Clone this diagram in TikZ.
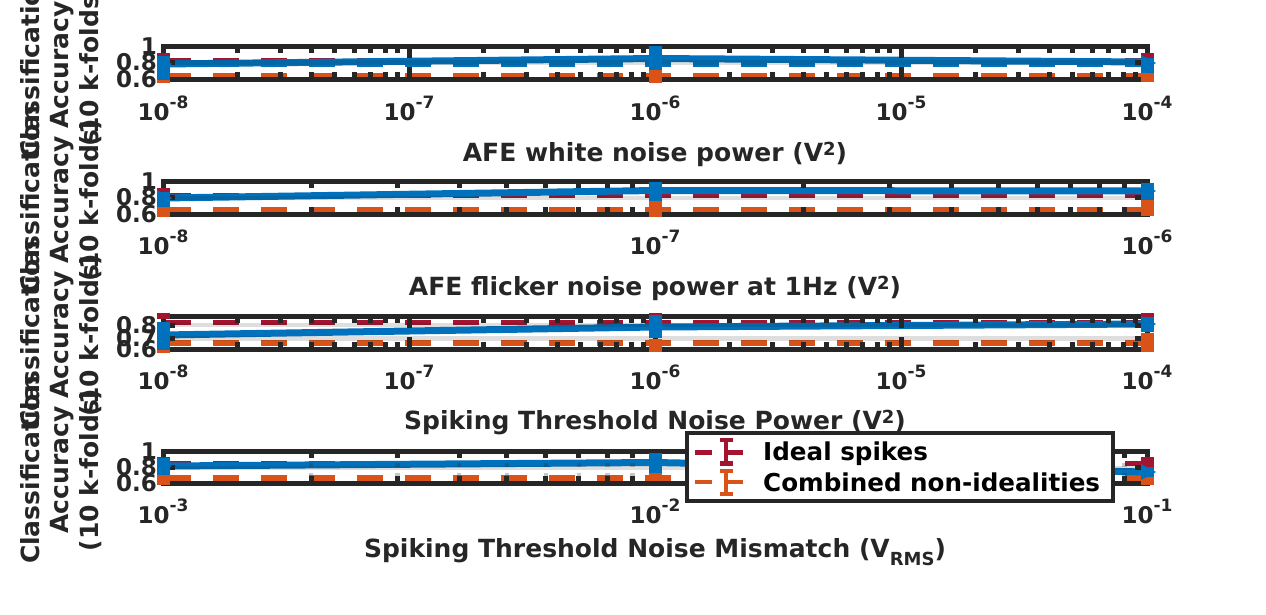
\documentclass[tikz,border=0pt]{standalone}
\usepackage{fontspec}
\setmainfont{DejaVu Sans}
\definecolor{ax}{HTML}{262626}
\definecolor{cred}{HTML}{A2142F}
\definecolor{corg}{HTML}{D95319}
\definecolor{cblu}{HTML}{0072BD}
\newcommand\tkf{\fontsize{23}{27}\selectfont\bfseries}
\newcommand\lbf{\fontsize{25}{29}\selectfont\bfseries}
\newcommand\lgf{\fontsize{24.6}{29}\selectfont\bfseries}
\newcommand\pten[1]{10\raisebox{12pt}{\fontsize{17}{17}\selectfont -#1}}
\newcommand\sups[1]{\raisebox{6pt}{\fontsize{18}{18}\selectfont #1}}
\newcommand\subs[1]{\raisebox{-8pt}{\fontsize{18}{18}\selectfont #1}}
\newcommand\mkaxis[4]{%
  \draw[axline] (163,#1) rectangle (1147,#2);
  \foreach \d in {0,...,#3} \foreach \m in {2,...,9} {
    \pgfmathsetmacro\xx{163+#4*(\d+log10(\m))}
    \draw[axline] (\xx,#1) -- ++(0,7);
    \draw[axline] (\xx,#2) -- ++(0,-7);
  }
  \foreach \d in {1,...,#3} {
    \pgfmathsetmacro\xx{163+#4*\d}
    \draw[axline] (\xx,#1) -- ++(0,12);
    \draw[axline] (\xx,#2) -- ++(0,-12);
  }
}
\newcommand\ytk[1]{\draw[axline] (163,#1) -- ++(12,0); \draw[axline] (1147,#1) -- ++(-12,0);}
\newcommand\tri[2]{\fill[cblu] (#1-6,#2-8) -- (#1-6,#2+8) -- (#1+9,#2) -- cycle;}
\begin{document}
\begin{tikzpicture}[x=1pt,y=-1pt,
  axline/.style={draw=ax, line width=5pt},
  dashA/.style={line width=6pt, dash pattern=on 26pt off 22pt},
  bluln/.style={draw=cblu, line width=7pt},
  gridy/.style={draw=ax, draw opacity=0.15, line width=4.5pt},
  gridm/.style={draw=ax, draw opacity=0.25, line width=4.5pt, dash pattern=on 4pt off 6pt},
  errb/.style={line width=13pt},
  xtl/.style={text=ax, font=\tkf, anchor=base, inner sep=0},
  ytl/.style={text=ax, font=\tkf, anchor=east, inner sep=0},
  xlab/.style={text=ax, font=\lbf, anchor=base, inner sep=0},
  ylab/.style={text=ax, font=\lbf, rotate=90, anchor=base, inner sep=0},
  lgt/.style={text=black, font=\lgf, anchor=base west, inner sep=0},
  lgl/.style={line width=4.5pt}]
\useasboundingbox (0,0) rectangle (1266,614);
\fill[white] (0,0) rectangle (1266,614);

% ---------- Panel 1 ----------
\draw[dashA,cred,line width=5pt] (165,60) -- (1147,60);
\draw[dashA,corg] (165,75.5) -- (1147,75.5);
\draw[dashA,cblu,line width=7pt] (165,63.5) -- (1147,63.5);
\draw[bluln] (163,64) -- (655,58.5) -- (1147,62);
\draw[gridy] (163,62.5) -- (1147,62.5);
\mkaxis{46}{79}{3}{246}
\ytk{62.5}
\draw[errb,cred] (163,53) -- (163,57); \draw[errb,cred] (1147,53) -- (1147,58);
\draw[errb,corg] (163,79) -- (163,83); \draw[errb,corg] (655,70) -- (655,83); \draw[errb,corg] (1147,72) -- (1147,82);
\draw[errb,cblu] (163,56) -- (163,80); \draw[errb,cblu] (655,46) -- (655,70); \draw[errb,cblu] (1147,58) -- (1147,73);
\tri{163}{64}\tri{655}{58.5}\tri{1147}{63}

% ---------- Panel 2 ----------
\draw[dashA,cred,line width=5pt] (165,195.5) -- (1147,195.5);
\draw[dashA,corg] (165,209.5) -- (1147,209.5);
\draw[bluln] (163,198) -- (655,190.5) -- (1147,191);
\draw[gridy] (163,198) -- (1147,198);
\mkaxis{181}{214}{1}{492}
\ytk{197.5}
\draw[errb,cred] (163,188) -- (163,192); \draw[errb,cred] (1147,186) -- (1147,193);
\draw[errb,corg] (163,207) -- (163,217); \draw[errb,corg] (655,201) -- (655,217); \draw[errb,corg] (1147,200) -- (1147,216);
\draw[errb,cblu] (163,192) -- (163,207); \draw[errb,cblu] (655,182) -- (655,201); \draw[errb,cblu] (1147,183) -- (1147,200);
\tri{163}{198}\tri{655}{190.5}\tri{1147}{191}

% ---------- Panel 3 ----------
\draw[dashA,cred,line width=5pt] (165,322) -- (1147,322);
\draw[dashA,corg] (165,342.5) -- (1147,342.5);
\draw[bluln] (163,335) -- (655,327) -- (1147,324);
\draw[gridy] (163,325) -- (1147,325);
\draw[gridy] (163,338.5) -- (1147,338.5);
\mkaxis{316}{349}{3}{246}
\ytk{325}\ytk{338.5}
\draw[errb,cred] (163,313) -- (163,319); \draw[errb,cred] (655,313) -- (655,316); \draw[errb,cred] (1147,313) -- (1147,319);
\draw[errb,corg] (163,349) -- (163,353); \draw[errb,corg] (655,339) -- (655,352); \draw[errb,corg] (1147,333) -- (1147,352);
\draw[errb,cblu] (163,322) -- (163,350); \draw[errb,cblu] (655,315) -- (655,338); \draw[errb,cblu] (1147,317) -- (1147,332);
\tri{163}{335}\tri{655}{327}\tri{1147}{324}

% ---------- Panel 4 ----------
\draw[dashA,cred,line width=5pt] (165,463) -- (1147,463);
\draw[dashA,corg] (165,478) -- (1147,478);
\draw[bluln] (163,466) -- (655,462.5) -- (1147,472);
\draw[gridy] (163,468) -- (1147,468);
\foreach \d in {0,1} \foreach \m in {2,...,9} {
  \pgfmathsetmacro\xx{163+492*(\d+log10(\m))}
  \draw[gridm] (\xx,453) -- (\xx,481);
}
\mkaxis{451}{483}{1}{492}
\ytk{467}
\draw[errb,cred] (163,457) -- (163,461); \draw[errb,cred] (1147,457) -- (1147,467);
\draw[errb,corg] (163,475) -- (163,485); \draw[errb,corg] (655,473) -- (655,481); \draw[errb,corg] (1147,476) -- (1147,485);
\draw[errb,cblu] (163,458) -- (163,475); \draw[errb,cblu] (655,453) -- (655,473); \draw[errb,cblu] (1147,467) -- (1147,477);
\tri{163}{466}\tri{655}{462.5}\tri{1147}{472}

% ---------- tick labels ----------
\foreach \t/\yy in {1/46,0.8/62.5,0.6/79, 1/181,0.8/197.5,0.6/214, 0.8/325,0.7/338.5,0.6/349, 1/451,0.8/467,0.6/483}
  \node[ytl] at (157,\yy) {\t};
\foreach \i/\e in {0/8,1/7,2/6,3/5,4/4} {
  \node[xtl] (xa\i) at (163+246*\i,120) {\pten{\e}};
  \node[xtl] (xc\i) at (163+246*\i,389) {\pten{\e}};
}
\foreach \i/\e in {0/8,1/7,2/6} \node[xtl] (xb\i) at (163+492*\i,254) {\pten{\e}};
\foreach \i/\e in {0/3,1/2,2/1} \node[xtl] (xd\i) at (163+492*\i,523) {\pten{\e}};

% ---------- axis labels ----------
\node[xlab] (la) at (655,161) {AFE white noise power (V\sups{2})};
\node[xlab] (lb) at (655,295) {AFE flicker noise power at 1Hz (V\sups{2})};
\node[xlab] (lc) at (655,429) {Spiking Threshold Noise Power (V\sups{2})};
\node[xlab] (ld) at (655,557) {Spiking Threshold Noise Mismatch (V\subs{RMS})};
\foreach \yc/\n in {65/a,200/b,335/c,470/d} {
  \node[ylab] (y\n1) at (39,\yc) {Classification};
  \node[ylab] (y\n2) at (68.5,\yc) {Accuracy};
  \node[ylab] (y\n3) at (98,\yc) {(10 k-folds)};
}

% ---------- legend ----------
\node[draw=ax, line width=4.5pt, fill=white, minimum width=426pt, minimum height=68pt, inner sep=0] (leg) at (900,467) {};
\draw[lgl,cred] (695,452.5) -- (712,452.5) (726,452.5) -- (743,452.5) (726,440) -- (726,465) (719.5,440) -- (732.5,440) (719.5,463.5) -- (732.5,463.5);
\draw[lgl,corg] (695,482) -- (712,482) (726,482) -- (743,482) (726,469) -- (726,496) (719.5,471) -- (732.5,471) (719.5,494) -- (732.5,494);
\node[lgt] (l1) at (763,460) {Ideal spikes};
\node[lgt] (l2) at (763,491) {Combined non-idealities};
\end{tikzpicture}
\end{document}
